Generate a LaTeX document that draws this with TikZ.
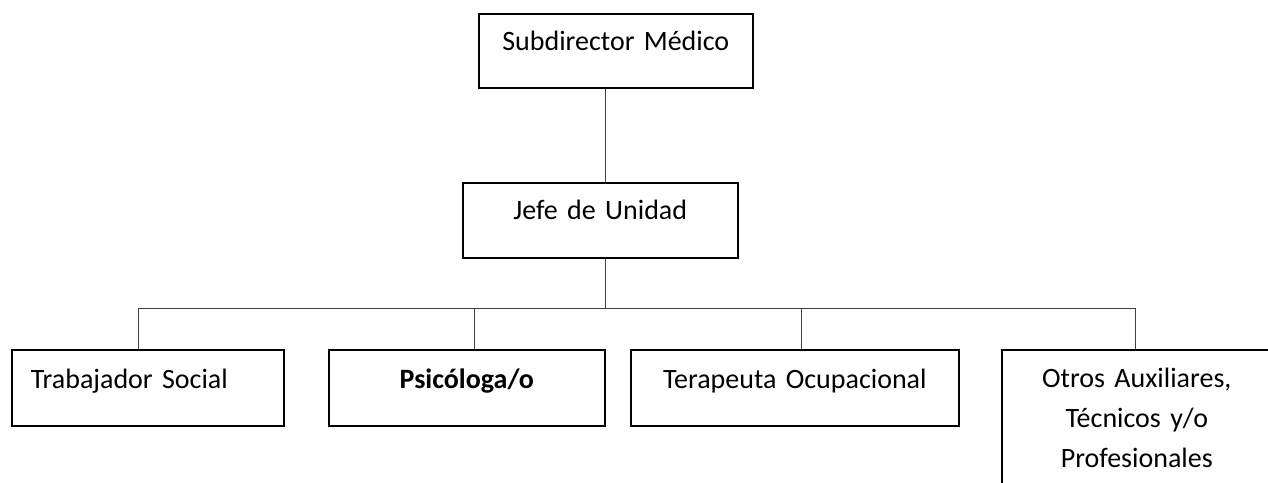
\documentclass[tikz,border=0pt]{standalone}
\usepackage{fontspec}
\setmainfont{Carlito}
\begin{document}
\begin{tikzpicture}[x=1pt,y=-1pt,
  box/.style={draw=black, line width=1.6pt, rectangle, inner xsep=0pt, inner ysep=0pt,
    anchor=north west, align=center, font=\fontsize{28}{40}\selectfont, text height=37pt},
  conn/.style={draw=black!75, line width=1pt}]
\useasboundingbox (0,0) rectangle (1268,482);
\clip (0,0) rectangle (1268,482);
% boxes
\node[box, text width=274pt, text depth=37pt] (sub) at (478,13) {Subdirector Médico};
\node[box, text width=275pt, text depth=38pt] (jefe) at (462,182) {Jefe de Unidad};
\node[box, inner xsep=19pt, text width=234pt, align=left, text height=39pt, text depth=37pt] (trab) at (11,349) {Trabajador Social};
\node[box, text width=276pt, text height=39pt, text depth=37pt] (psic) at (328,349) {\bfseries Psicóloga/o};
\node[box, text width=328pt, text height=39pt, text depth=37pt] (tera) at (630,349) {Terapeuta Ocupacional};
\node[box, text width=270pt, text height=38pt, text depth=200pt] (otros) at (1001,349) {Otros Auxiliares,\\Técnicos y/o\\Profesionales};
% connector points
\coordinate (bus) at (605,308);
\coordinate (d1) at (138,308);
\coordinate (d2) at (474,308);
\coordinate (d3) at (801,308);
\coordinate (d4) at (1135,308);
% connectors
\draw[conn] (sub.south -| bus) -- (jefe.north -| bus);
\draw[conn] (jefe.south -| bus) -- (bus);
\draw[conn] (d1) -- (d4);
\draw[conn] (d1) -- (trab.north -| d1);
\draw[conn] (d2) -- (psic.north -| d2);
\draw[conn] (d3) -- (tera.north -| d3);
\draw[conn] (d4) -- (otros.north -| d4);
\end{tikzpicture}
\end{document}
